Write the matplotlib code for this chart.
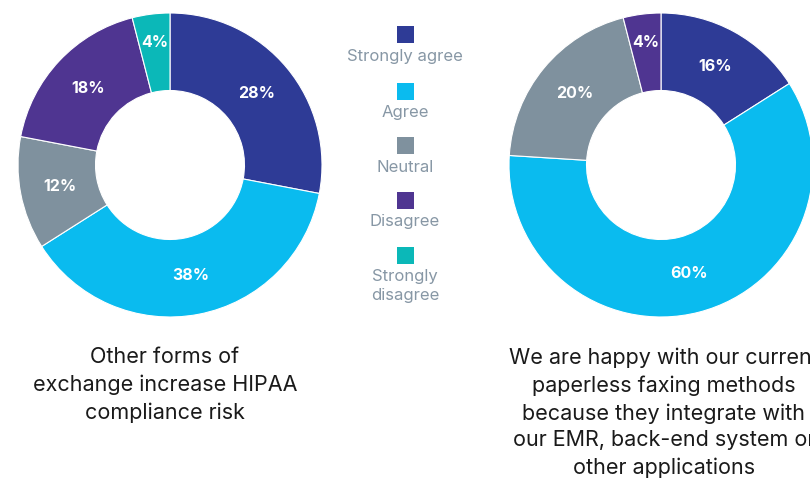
import numpy as np
import matplotlib.pyplot as plt
from matplotlib.patches import Rectangle

categories = ["Strongly agree", "Agree", "Neutral", "Disagree", "Strongly\ndisagree"]
colors = ["#2E3B96", "#0ABBEF", "#7F919E", "#4F3591", "#0BB8B8"]

left_values = [28, 38, 12, 18, 4]
right_values = [16, 60, 20, 4, 0]

left_title = "Other forms of\nexchange increase HIPAA\ncompliance risk"
right_title = ("We are happy with our current\npaperless faxing methods\n"
               "because they integrate with\nour EMR, back-end system or\nother applications")

W, H = 810, 482
plt.rcParams['font.family'] = ['Inter', 'DejaVu Sans']

fig = plt.figure(figsize=(W / 100, H / 100), dpi=100)


def donut(cx, cy, r, values):
    ax = fig.add_axes([(cx - r) / W, (H - cy - r) / H, 2 * r / W, 2 * r / H])
    vals = [v for v in values if v > 0]
    cols = [c for v, c in zip(values, colors) if v > 0]
    ax.pie(vals, colors=cols, startangle=90, counterclock=False, radius=1,
           wedgeprops=dict(width=0.51, edgecolor="white", linewidth=0.8))
    cum = 0
    for v in vals:
        mid = 90 - (cum + v / 2) / 100 * 360
        cum += v
        d = 0.81 if v < 5 else 0.74
        ax.text(d * np.cos(np.radians(mid)), d * np.sin(np.radians(mid)), f"{v}%",
                ha="center", va="center", color="white", fontsize=11.5, fontweight="bold")
    ax.set_xlim(-1, 1)
    ax.set_ylim(-1, 1)
    ax.set_aspect("auto")
    ax.axis("off")
    return ax


donut(170, 165, 152, left_values)
donut(661, 165, 152, right_values)

# legend in the middle
sq_y = [34, 91, 145, 200, 255]
for lab, col, y in zip(categories, colors, sq_y):
    fig.patches.append(Rectangle(((405 - 8.5) / W, (H - y - 8.5) / H), 17 / W, 17 / H,
                                 transform=fig.transFigure, facecolor=col, edgecolor="none"))
    ty = y + 22 if "\n" not in lab else y + 31
    fig.text(405 / W, 1 - ty / H, lab, ha="center", va="center", color="#8797A5",
             fontsize=12, linespacing=1.3)

# titles (the right one runs off the edge, as in the original)
fig.text(165 / W, 1 - 385 / H, left_title, ha="center", va="center", color="#1a1a1a",
         fontsize=15.5, linespacing=1.43)
fig.text(664 / W, 1 - 413 / H, right_title, ha="center", va="center", color="#1a1a1a",
         fontsize=15.5, linespacing=1.43)

fig.savefig("out.png", dpi=100, facecolor="white")
